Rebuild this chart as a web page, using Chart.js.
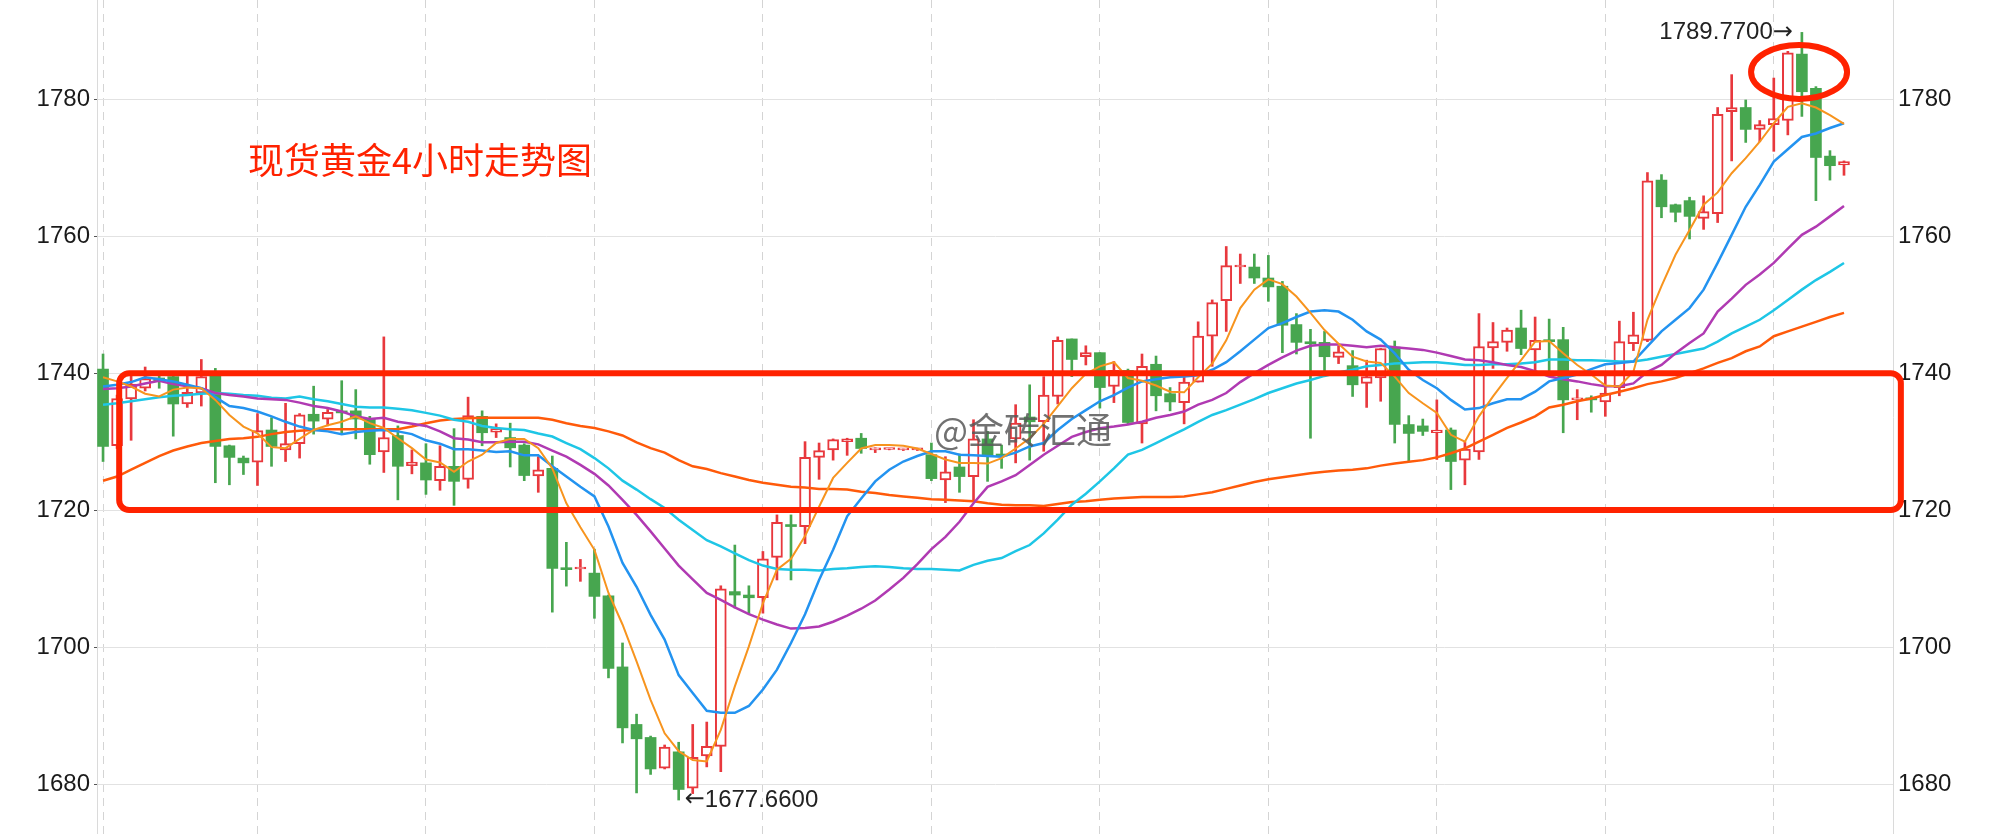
<!DOCTYPE html>
<html>
<head>
<meta charset="utf-8">
<script src="https://cdn.jsdelivr.net/npm/chart.js@4.4.1/dist/chart.umd.min.js"></script>
<style>
  html, body { margin: 0; padding: 0; background: #fff; }
  #wrap { width: 1996px; height: 834px; }
</style>
</head>
<body>
<div id="wrap"><canvas id="kline" width="1996" height="834"></canvas></div>
<script>
// 4h candles
var opens = [
  1740.6, 1729.4, 1736.25, 1737.8, 1739.3, 1739.5, 1735.5, 1737.1, 1739.6, 1729.4,
  1727.6, 1727.0, 1731.7, 1728.8, 1729.7, 1734.0, 1733.3, 1734.4, 1734.5, 1733.3,
  1728.5, 1730.9, 1726.5, 1726.9, 1724.3, 1726.4, 1724.5, 1733.7, 1731.4, 1730.6,
  1729.5, 1725.0, 1726.1, 1711.5, 1711.4, 1710.8, 1707.5, 1697.1, 1688.7, 1686.8,
  1682.3, 1684.7, 1679.4, 1684.1, 1685.5, 1708.1, 1707.6, 1707.2, 1713.1, 1717.7,
  1717.6, 1727.7, 1728.8, 1730.0, 1730.5, 1728.8, 1728.85, 1728.8, 1728.8, 1728.1,
  1724.4, 1726.3, 1724.9, 1730.4, 1728.1, 1730.4, 1733.6, 1732.9, 1736.6, 1745.0,
  1742.4, 1743.0, 1738.05, 1740.4, 1732.6, 1741.3, 1737.0, 1735.7, 1738.7, 1745.4,
  1750.6, 1755.5, 1755.5, 1753.9, 1752.7, 1747.1, 1744.5, 1744.5, 1742.3, 1741.1,
  1738.5, 1739.3, 1743.8, 1732.5, 1732.3, 1731.3, 1731.7, 1727.3, 1728.5, 1743.7,
  1744.5, 1746.6, 1743.4, 1744.8, 1744.9, 1736.1, 1736.4, 1735.8, 1737.9, 1744.3,
  1744.8, 1768.2, 1764.6, 1765.2, 1762.6, 1763.3, 1778.2, 1778.8, 1775.6, 1776.3,
  1776.9, 1786.6, 1781.6, 1771.7, 1770.4
];
var highs = [
  1742.8, 1736.8, 1740.0, 1740.9, 1740.0, 1740.2, 1739.7, 1742.0, 1740.7, 1729.5,
  1727.9, 1734.1, 1733.5, 1735.6, 1734.1, 1738.1, 1734.7, 1738.9, 1737.6, 1733.7,
  1745.3, 1732.3, 1728.8, 1729.7, 1729.4, 1731.9, 1736.5, 1734.5, 1732.6, 1732.7,
  1729.7, 1727.8, 1727.9, 1715.3, 1712.8, 1714.3, 1707.6, 1700.6, 1690.2, 1687.0,
  1685.7, 1686.1, 1688.7, 1689.05, 1708.95, 1714.9, 1708.95, 1713.96, 1719.3, 1719.3,
  1730.0, 1729.8, 1730.4, 1730.5, 1731.2, 1729.1, 1729.0, 1729.0, 1729.0, 1729.8,
  1727.8, 1728.2, 1733.2, 1731.5, 1729.5, 1735.4, 1738.3, 1739.5, 1745.3, 1745.0,
  1744.0, 1743.0, 1741.7, 1740.6, 1742.8, 1742.5, 1737.9, 1739.5, 1747.5, 1750.7,
  1758.5, 1757.4, 1757.4, 1757.2, 1753.4, 1748.7, 1746.4, 1746.1, 1744.0, 1743.3,
  1741.9, 1743.6, 1744.7, 1733.8, 1733.3, 1736.1, 1732.0, 1730.0, 1748.7, 1747.4,
  1746.6, 1749.2, 1748.2, 1747.9, 1746.7, 1737.6, 1736.7, 1739.8, 1747.6, 1748.9,
  1769.3, 1769.0, 1764.7, 1765.7, 1765.9, 1778.8, 1783.6, 1779.9, 1776.9, 1783.1,
  1787.0, 1789.77, 1781.85, 1772.5, 1771.0
];
var lows = [
  1727.1, 1729.0, 1730.2, 1737.4, 1737.8, 1730.8, 1735.0, 1735.2, 1724.0, 1723.7,
  1725.2, 1723.6, 1726.4, 1727.1, 1727.6, 1731.1, 1732.3, 1731.2, 1730.4, 1726.7,
  1725.5, 1721.5, 1725.3, 1722.3, 1722.9, 1720.7, 1723.2, 1729.4, 1730.6, 1726.3,
  1724.3, 1722.6, 1705.1, 1708.9, 1709.6, 1704.2, 1695.5, 1686.0, 1678.7, 1681.4,
  1682.2, 1677.66, 1678.6, 1682.5, 1681.8, 1705.7, 1704.9, 1704.95, 1709.8, 1709.8,
  1715.1, 1724.5, 1727.3, 1728.0, 1728.3, 1728.4, 1728.8, 1728.7, 1728.7, 1724.3,
  1721.1, 1722.6, 1721.4, 1724.2, 1726.1, 1726.9, 1727.3, 1728.6, 1735.5, 1739.5,
  1741.2, 1734.9, 1735.7, 1732.5, 1729.8, 1734.5, 1734.5, 1732.6, 1738.7, 1741.0,
  1746.1, 1753.1, 1753.1, 1750.5, 1743.0, 1742.8, 1730.5, 1740.0, 1741.4, 1736.6,
  1735.0, 1735.9, 1729.8, 1727.1, 1730.9, 1727.4, 1723.0, 1723.7, 1727.4, 1740.7,
  1743.2, 1742.7, 1740.0, 1740.0, 1731.3, 1733.2, 1734.3, 1733.7, 1736.7, 1743.3,
  1744.6, 1762.7, 1762.1, 1759.6, 1761.0, 1762.0, 1771.0, 1773.7, 1773.8, 1772.4,
  1774.8, 1777.5, 1765.2, 1768.2, 1768.9
];
var closes = [
  1729.3, 1736.3, 1738.4, 1739.2, 1738.8, 1735.5, 1737.2, 1739.5, 1729.3, 1727.7,
  1726.9, 1731.6, 1729.3, 1729.7, 1733.9, 1733.0, 1734.3, 1734.2, 1733.3, 1728.1,
  1730.6, 1726.4, 1727.0, 1724.4, 1726.4, 1724.2, 1733.8, 1731.3, 1731.9, 1729.1,
  1725.05, 1725.9, 1711.5, 1711.3, 1711.6, 1707.4, 1696.9, 1688.2, 1686.6, 1682.2,
  1685.4, 1679.2, 1683.9, 1685.5, 1708.5, 1707.6, 1707.2, 1712.9, 1718.2, 1717.6,
  1727.7, 1728.7, 1730.3, 1730.4, 1729.0, 1728.95, 1728.95, 1728.9, 1728.9, 1724.6,
  1725.6, 1724.9, 1730.4, 1727.9, 1727.9, 1732.7, 1732.9, 1736.8, 1744.8, 1742.0,
  1743.0, 1737.9, 1740.4, 1732.8, 1741.0, 1736.7, 1735.8, 1738.7, 1745.4, 1750.3,
  1755.7, 1755.7, 1753.9, 1752.6, 1747.0, 1744.5, 1744.3, 1742.4, 1743.1, 1738.3,
  1739.5, 1743.6, 1732.5, 1731.2, 1731.5, 1731.7, 1727.1, 1728.9, 1743.9, 1744.6,
  1746.3, 1743.6, 1744.8, 1744.6, 1736.1, 1736.3, 1736.1, 1737.1, 1744.6, 1745.6,
  1768.1, 1764.3, 1763.5, 1762.9, 1763.6, 1777.8, 1778.8, 1775.6, 1776.3, 1777.2,
  1786.8, 1781.1, 1771.5, 1770.3, 1770.9
];

// moving average lines
var ma5 = [
  1739.4, 1738.8, 1738.05, 1737.0, 1736.6, 1737.6, 1737.9, 1737.8, 1736.1, 1733.9,
  1732.2, 1731.2, 1729.2, 1729.05, 1730.4, 1731.7, 1732.4, 1732.9, 1733.7, 1732.7,
  1732.0, 1730.5, 1729.05, 1727.4, 1726.95, 1725.6, 1727.1, 1728.1, 1729.8, 1730.4,
  1730.4, 1729.05, 1726.1, 1721.0, 1717.5, 1714.2, 1707.9, 1703.3, 1697.9, 1692.3,
  1687.4, 1684.8, 1683.5, 1683.3, 1687.9, 1694.25, 1700.1, 1706.4, 1711.3, 1712.9,
  1716.2, 1720.5, 1724.7, 1726.9, 1729.0, 1729.5, 1729.5, 1729.4, 1729.0, 1728.2,
  1727.4, 1726.9, 1726.9, 1726.8, 1727.6, 1729.0, 1730.5, 1732.6, 1735.2, 1737.8,
  1739.9, 1741.0, 1741.6, 1739.3, 1738.9, 1738.2, 1737.3, 1737.2, 1739.4, 1741.4,
  1744.8, 1749.5, 1752.2, 1753.7, 1753.0, 1751.2, 1748.8, 1746.3, 1744.3, 1742.4,
  1741.7, 1741.5, 1739.5, 1737.1, 1735.6, 1734.2, 1731.0, 1730.0, 1733.7, 1736.6,
  1739.3, 1741.9, 1744.6, 1744.7, 1742.9, 1741.2, 1739.8, 1738.2, 1738.05, 1740.2,
  1747.8, 1752.7, 1757.3, 1760.9, 1764.6, 1766.4, 1769.2, 1771.4, 1773.8, 1776.5,
  1778.9, 1779.4, 1778.8, 1777.7, 1776.4
];
var ma10 = [
  1738.05, 1738.3, 1738.7, 1739.4, 1739.1, 1738.8, 1738.3, 1737.8, 1736.5, 1735.2,
  1734.9, 1734.4, 1733.7, 1732.9, 1732.2, 1731.7, 1731.5, 1731.1, 1731.4, 1731.6,
  1731.7, 1731.5, 1731.1, 1730.2, 1729.7, 1728.9, 1728.9, 1728.7, 1728.5, 1728.6,
  1728.0, 1728.0, 1726.4, 1724.9, 1723.4, 1722.0, 1717.6, 1712.3, 1708.8, 1704.7,
  1701.1, 1695.9, 1693.3, 1690.7, 1690.4, 1690.4, 1691.4, 1693.8, 1696.7, 1700.6,
  1704.8, 1709.8, 1714.2, 1719.1, 1721.7, 1724.2, 1725.9, 1727.1, 1727.9, 1728.6,
  1728.6, 1728.1, 1728.0, 1727.9, 1727.8, 1728.4, 1729.3, 1729.8, 1731.7, 1733.3,
  1734.6, 1735.9, 1736.8, 1737.9, 1738.8, 1739.1, 1739.4, 1739.5, 1739.7, 1740.5,
  1741.6, 1743.2, 1744.9, 1746.6, 1747.3, 1748.2, 1749.0, 1749.2, 1749.0, 1747.8,
  1746.1, 1744.9, 1742.9, 1740.5, 1739.0, 1737.8, 1736.1, 1734.7, 1734.9, 1735.6,
  1736.2, 1736.2, 1737.3, 1738.8, 1739.3, 1739.8, 1740.6, 1741.3, 1741.5, 1741.7,
  1743.9, 1746.1, 1747.8, 1749.5, 1752.2, 1756.1, 1760.2, 1764.3, 1767.5, 1770.9,
  1772.7, 1774.5, 1775.0, 1775.8, 1776.5
];
var ma20 = [
  1737.7, 1737.8, 1738.05, 1738.5, 1738.9, 1738.4, 1738.1, 1737.8, 1737.1, 1736.8,
  1736.6, 1736.3, 1736.2, 1736.1, 1735.7, 1735.2, 1734.9, 1734.4, 1733.7, 1733.3,
  1733.5, 1732.9, 1732.6, 1732.3, 1731.5, 1730.5, 1730.3, 1729.9, 1729.9, 1730.0,
  1730.0, 1729.6, 1728.7, 1727.8, 1726.6, 1725.3, 1723.6, 1721.5, 1719.3, 1716.9,
  1714.4, 1711.9, 1709.9, 1707.9, 1706.9, 1705.8, 1704.8, 1704.0, 1703.3, 1702.7,
  1702.8, 1703.0, 1703.7, 1704.6, 1705.6, 1706.8, 1708.4, 1710.1, 1712.1, 1714.3,
  1716.1, 1718.3, 1721.0, 1723.4, 1724.2, 1725.1, 1726.6, 1728.1, 1729.4, 1730.7,
  1731.4, 1731.95, 1732.2, 1732.5, 1732.9, 1733.5, 1733.9, 1734.4, 1735.4, 1736.1,
  1737.1, 1738.7, 1740.0, 1741.2, 1742.3, 1743.3, 1744.0, 1744.2, 1744.2, 1744.0,
  1743.8, 1744.0, 1743.8, 1743.6, 1743.4, 1743.0, 1742.5, 1742.0, 1741.9, 1741.6,
  1741.2, 1740.9, 1740.3, 1739.5, 1739.1, 1738.8, 1738.4, 1738.1, 1738.1, 1738.5,
  1740.2, 1741.2, 1742.9, 1744.4, 1745.8, 1749.0, 1750.9, 1752.9, 1754.4, 1756.1,
  1758.2, 1760.2, 1761.4, 1762.9, 1764.4
];
var ma30 = [
  1735.4, 1735.6, 1735.9, 1736.2, 1736.5, 1736.7, 1736.8, 1737.0, 1737.1, 1737.0,
  1736.8, 1736.7, 1736.4, 1736.3, 1736.6, 1736.2, 1735.9, 1735.5, 1735.1, 1735.0,
  1735.0, 1734.8, 1734.6, 1734.2, 1733.8, 1733.2, 1732.9, 1732.3, 1732.0, 1731.8,
  1731.7, 1731.2, 1730.75, 1729.8, 1728.9, 1727.6, 1726.1, 1724.3, 1723.0, 1721.6,
  1720.3, 1718.6, 1717.1, 1715.6, 1714.7, 1713.7, 1712.7, 1711.9, 1711.4, 1711.3,
  1711.3, 1711.2, 1711.4, 1711.5, 1711.7, 1711.8, 1711.7, 1711.5, 1711.4, 1711.4,
  1711.3, 1711.2, 1712.0, 1712.6, 1713.0, 1714.0, 1714.9, 1716.6, 1718.6, 1720.8,
  1722.4, 1724.2, 1726.1, 1728.1, 1728.8, 1729.8, 1730.8, 1731.8, 1732.9, 1733.9,
  1734.6, 1735.4, 1736.2, 1737.1, 1737.8, 1738.5, 1739.0, 1739.6, 1740.1, 1740.5,
  1741.0, 1741.2, 1741.4, 1741.5, 1741.6, 1741.6, 1741.4, 1741.2, 1741.2, 1741.3,
  1741.3, 1741.4, 1741.6, 1742.0, 1742.0, 1741.9, 1741.9, 1741.8, 1741.7, 1741.7,
  1742.0, 1742.4, 1742.8, 1743.2, 1743.6, 1744.6, 1745.8, 1746.8, 1747.8, 1749.2,
  1750.7, 1752.2, 1753.6, 1754.8, 1756.1
];
var ma60 = [
  1724.3, 1724.9, 1725.9, 1726.9, 1727.9, 1728.7, 1729.3, 1729.8, 1730.1, 1730.4,
  1730.5, 1730.7, 1731.1, 1731.4, 1731.6, 1731.7, 1731.8, 1731.8, 1731.8, 1731.8,
  1731.8, 1731.8, 1732.2, 1732.7, 1733.1, 1733.3, 1733.4, 1733.5, 1733.5, 1733.5,
  1733.5, 1733.5, 1733.2, 1732.7, 1732.3, 1732.0, 1731.5, 1730.9, 1729.9, 1729.05,
  1728.4, 1727.3, 1726.4, 1726.0, 1725.4, 1724.9, 1724.4, 1724.0, 1723.7, 1723.4,
  1723.3, 1723.1, 1723.1, 1723.0, 1722.7, 1722.5, 1722.2, 1722.0, 1721.8, 1721.6,
  1721.5, 1721.4, 1721.3, 1721.0, 1720.8, 1720.7, 1720.7, 1720.6, 1720.9, 1721.2,
  1721.3, 1721.5, 1721.7, 1721.8, 1721.9, 1721.9, 1721.9, 1722.0, 1722.3, 1722.6,
  1723.1, 1723.6, 1724.1, 1724.5, 1724.8, 1725.1, 1725.4, 1725.6, 1725.8, 1725.9,
  1726.1, 1726.5, 1726.8, 1727.05, 1727.3, 1727.7, 1728.3, 1729.0, 1730.0, 1731.0,
  1732.0, 1732.8, 1733.7, 1735.0, 1735.4, 1735.9, 1736.3, 1736.8, 1737.3, 1737.8,
  1738.4, 1738.8, 1739.3, 1740.0, 1740.7, 1741.5, 1742.2, 1743.2, 1743.9, 1745.4,
  1746.1, 1746.8, 1747.5, 1748.2, 1748.8
];

var yTicks = [1680, 1700, 1720, 1740, 1760, 1780];
var dayLines = [0, 11, 23, 35, 47, 59, 71, 83, 95, 107, 119];
var titleText = '现货黄金4小时走势图';
var markText = '@金砖汇通';

var upColor = '#e8383d';
var downColor = '#47a64f';
var boxRed = '#ff2200';
var numFont = '"Liberation Sans", Arial, Helvetica, sans-serif';
var cjkFont = '"Noto Sans CJK SC", "Noto Sans", sans-serif';

var idx = opens.map(function (v, i) { return i; });
var isUp = idx.map(function (i) { return closes[i] >= opens[i]; });

function line(arr, color, width) {
  return {
    type: 'line',
    data: idx.map(function (i) { return { x: i, y: arr[i] }; }),
    borderColor: color,
    borderWidth: width,
    pointRadius: 0,
    tension: 0,
    fill: false,
    order: 1
  };
}

function squeezeY(w) {
  return function (s) {
    s.width = w;
    s.paddingTop = 0; s.paddingBottom = 0;
  };
}

function plainTick(v) { return String(v); }

// red box, ellipse, title, watermark, high/low tags
var overlay = {
  id: 'overlay',
  afterDraw: function (chart) {
    var ctx = chart.ctx;
    var xs = chart.scales.x, ys = chart.scales.y;
    ctx.save();

    ctx.font = '36px ' + cjkFont;
    ctx.fillStyle = boxRed;
    ctx.textAlign = 'left';
    ctx.textBaseline = 'middle';
    ctx.fillText(titleText, 248, 160);

    ctx.fillStyle = 'rgba(88,88,88,0.85)';
    ctx.textAlign = 'center';
    ctx.fillText(markText, 1023, 430);

    // high / low tags
    var hi = 0, lo = 0;
    idx.forEach(function (i) {
      if (highs[i] > highs[hi]) hi = i;
      if (lows[i] < lows[lo]) lo = i;
    });
    var arrowFont = '24px "DejaVu Sans", sans-serif';
    ctx.fillStyle = '#222';

    var hx = xs.getPixelForValue(hi) - 9, hy = ys.getPixelForValue(highs[hi]);
    ctx.textAlign = 'right';
    ctx.font = arrowFont;
    ctx.fillText('→', hx, hy);
    var aw = ctx.measureText('→').width;
    ctx.font = '24px ' + numFont;
    ctx.fillText(highs[hi].toFixed(4), hx - aw, hy);

    var lx = xs.getPixelForValue(lo) + 6, ly = ys.getPixelForValue(lows[lo]);
    ctx.textAlign = 'left';
    ctx.font = arrowFont;
    ctx.fillText('←', lx, ly);
    aw = ctx.measureText('←').width;
    ctx.font = '24px ' + numFont;
    ctx.fillText(lows[lo].toFixed(4), lx + aw, ly);

    // range box 1720-1740
    var x1 = xs.getPixelForValue(1.15), x2 = xs.getPixelForValue(128.05);
    var y1 = ys.getPixelForValue(1740), y2 = ys.getPixelForValue(1720);
    ctx.strokeStyle = boxRed;
    ctx.lineWidth = 6;
    ctx.beginPath();
    ctx.roundRect(x1, y1, x2 - x1, y2 - y1, 10);
    ctx.stroke();

    // ring round the top
    ctx.beginPath();
    ctx.ellipse(xs.getPixelForValue(120.8), ys.getPixelForValue(1784), 48, 27, 0, 0, Math.PI * 2);
    ctx.stroke();
    ctx.restore();
  }
};

new Chart(document.getElementById('kline'), {
  type: 'bar',
  data: {
    datasets: [
      line(ma5, '#f7941e', 2),
      line(ma10, '#2393f0', 2.5),
      line(ma20, '#b03ab2', 2.5),
      line(ma30, '#1ec6e6', 2.5),
      line(ma60, '#ff5a0a', 2.5),
      {
        // bodies
        data: idx.map(function (i) { return { x: i, y: [opens[i], closes[i]] }; }),
        backgroundColor: idx.map(function (i) { return isUp[i] ? '#ffffff' : downColor; }),
        borderColor: idx.map(function (i) { return isUp[i] ? upColor : downColor; }),
        borderWidth: idx.map(function (i) { return isUp[i] ? 2 : 0; }),
        borderSkipped: false,
        barThickness: 11,
        minBarLength: 2,
        grouped: false,
        order: 2
      },
      {
        // wicks
        data: idx.map(function (i) { return { x: i, y: [lows[i], highs[i]] }; }),
        backgroundColor: idx.map(function (i) { return isUp[i] ? upColor : downColor; }),
        borderWidth: 0,
        barThickness: 2,
        grouped: false,
        order: 3
      }
    ]
  },
  options: {
    responsive: false,
    animation: false,
    events: [],
    layout: { padding: 0 },
    plugins: { legend: { display: false }, tooltip: { enabled: false } },
    scales: {
      x: {
        type: 'linear',
        offset: false,
        min: -0.43,
        max: 127.49,
        afterBuildTicks: function (s) { s.ticks = dayLines.map(function (v) { return { value: v }; }); },
        afterFit: function (s) { s.height = 0; s.paddingLeft = 0; s.paddingRight = 0; },
        ticks: { display: false },
        grid: { offset: false, color: '#d4d4d4', lineWidth: 1, drawTicks: false },
        border: { display: false, dash: [8, 6] }
      },
      y: {
        position: 'left',
        min: 1672.7,
        max: 1794.5,
        afterBuildTicks: function (s) { s.ticks = yTicks.map(function (v) { return { value: v }; }); },
        afterFit: squeezeY(97),
        ticks: { color: '#1a1a1a', padding: 4, callback: plainTick, font: { family: numFont, size: 24 } },
        grid: { color: '#e2e2e2', tickColor: '#555', tickLength: 3 },
        border: { color: '#dadada' }
      },
      y2: {
        position: 'right',
        min: 1672.7,
        max: 1794.5,
        afterBuildTicks: function (s) { s.ticks = yTicks.map(function (v) { return { value: v }; }); },
        afterFit: squeezeY(103),
        ticks: { color: '#1a1a1a', padding: 5, callback: plainTick, font: { family: numFont, size: 24 } },
        grid: { drawOnChartArea: false, drawTicks: false },
        border: { color: '#dadada' }
      }
    }
  },
  plugins: [overlay]
});
</script>
</body>
</html>
